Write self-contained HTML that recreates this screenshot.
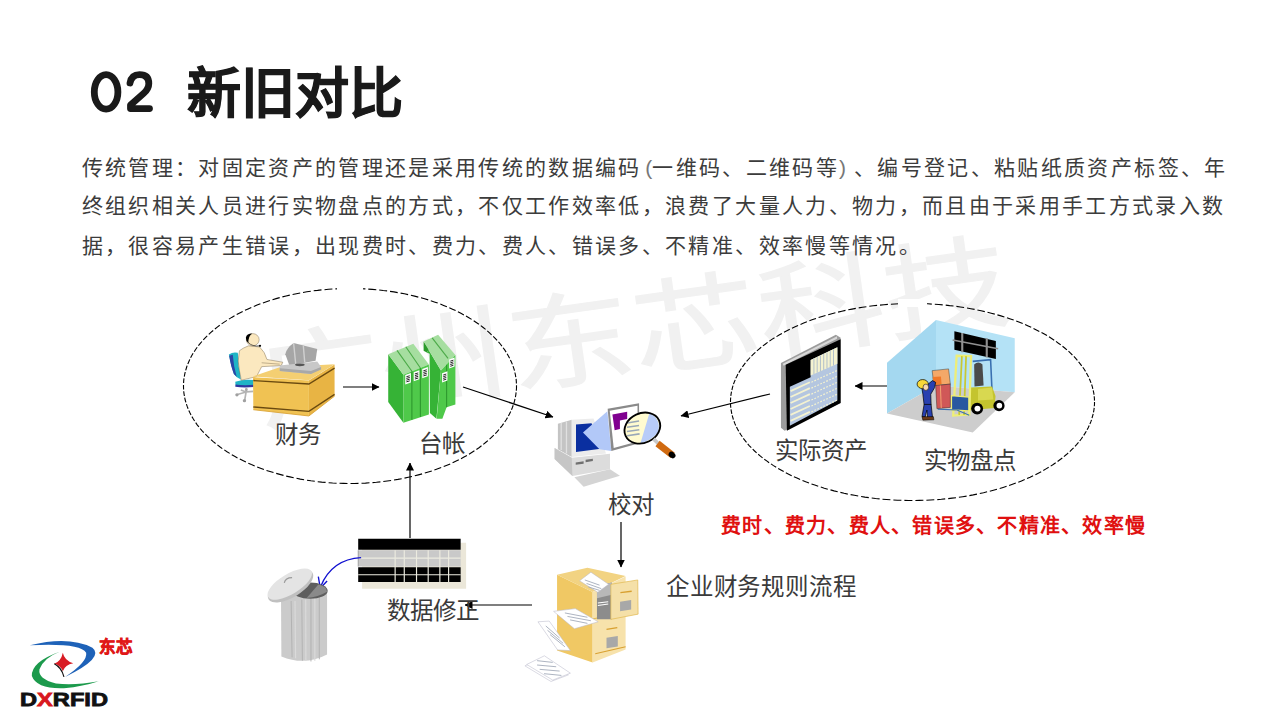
<!DOCTYPE html>
<html lang="zh-CN">
<head>
<meta charset="utf-8">
<style>
html,body{margin:0;padding:0;background:#fff;}
body{width:1280px;height:720px;position:relative;overflow:hidden;font-family:"Liberation Sans",sans-serif;}
.abs{position:absolute;white-space:nowrap;}
#title{left:89px;top:50px;font-size:57px;font-weight:bold;color:#1a1a1a;line-height:84px;}
#title2{left:187px;top:52px;font-size:54px;font-weight:bold;color:#1a1a1a;line-height:84px;-webkit-text-stroke:0.9px #1a1a1a;}
.ln{left:81.5px;font-size:21px;color:#3c3c3c;line-height:30px;letter-spacing:2.345px;}
.pl,.pr{display:inline-block;width:12.8px;color:#777;letter-spacing:0}
.pl{width:10.5px}.pr{width:15px}
.pl{text-align:right}.pr{text-align:left}
.lbl{font-family:"Liberation Serif",serif;font-size:23.5px;color:#3a3a3a;line-height:26px;}
#red{left:721px;top:512px;font-family:"Liberation Serif",serif;font-size:20px;font-weight:bold;color:#e01010;line-height:28px;letter-spacing:1.25px;}
</style>
</head>
<body>
<svg id="wm" class="abs" style="left:0;top:0" width="1280" height="720">
  <g transform="translate(633 333) rotate(-8) scale(1 0.82) translate(-633 -333)"><text x="633" y="378" text-anchor="middle" font-size="126" fill="#f1f1f1" stroke="#f1f1f1" stroke-width="1.4" font-family="Liberation Sans" letter-spacing="1">广州东芯科技</text></g>
</svg>
<svg class="abs" style="left:0;top:0" width="200" height="140">
  <ellipse cx="106.1" cy="91.9" rx="11.8" ry="17.2" fill="none" stroke="#1a1a1a" stroke-width="6.8"/>
  <path d="M130,83 Q131.5,74.6 139.5,74.6 Q148.8,74.6 148.8,83.5 Q148.8,89 143.5,93.5 L130.5,105 L130.5,108.6 L149.5,108.6" fill="none" stroke="#1a1a1a" stroke-width="6.8" stroke-linecap="round" stroke-linejoin="round"/>
</svg><div id="title2" class="abs">新旧对比</div>
<div class="abs ln" style="top:152.5px">传统管理：对固定资产的管理还是采用传统的数据编码<span class="pl">(</span>一维码、二维码等<span class="pr">)</span>、编号登记、粘贴纸质资产标签、年</div>
<div class="abs ln" style="top:190.5px">终组织相关人员进行实物盘点的方式，不仅工作效率低，浪费了大量人力、物力，而且由于采用手工方式录入数</div>
<div class="abs ln" style="top:230.5px">据，很容易产生错误，出现费时、费力、费人、错误多、不精准、效率慢等情况。</div>

<svg class="abs" style="left:0;top:0" width="1280" height="720">
  <defs>
    <marker id="ah" markerWidth="8" markerHeight="8" refX="7.5" refY="4" orient="auto" markerUnits="userSpaceOnUse">
      <path d="M0,0 L8,4 L0,8 Z" fill="#000"/>
    </marker>
  </defs>
  <!-- ellipses -->
  <path d="M516.5 386.0L516.5 388.3L516.3 390.7M516.1 392.4L515.8 394.8L515.4 397.1M515.0 398.8L514.5 401.2L513.8 403.5M513.2 405.2L512.4 407.5L511.5 409.8M510.7 411.5L509.6 413.7L508.4 416.0M507.5 417.6L506.2 419.8L504.7 422.0M503.6 423.6L502.0 425.8L500.3 427.9M499.0 429.5L497.2 431.6L495.3 433.6M493.8 435.2L491.7 437.2L489.6 439.2M487.9 440.6L485.6 442.5L483.3 444.4M481.5 445.8L479.0 447.7L476.4 449.5M474.4 450.8L471.7 452.5L469.0 454.2M466.9 455.5L464.0 457.1L461.0 458.7M458.8 459.8L455.7 461.3L452.6 462.8M450.2 463.9L447.0 465.2L443.7 466.6M441.2 467.6L437.8 468.8L434.4 470.0M431.8 470.9L428.3 472.0L424.8 473.1M422.1 473.9L418.4 474.9L414.8 475.8M412.0 476.5L408.3 477.3L404.5 478.1M401.7 478.7L397.9 479.4L394.0 480.0M391.1 480.5L387.2 481.0L383.3 481.5M380.4 481.9L376.4 482.3L372.5 482.6M369.5 482.8L365.5 483.1L361.5 483.3M358.5 483.4L354.5 483.5L350.5 483.5M347.5 483.5L343.5 483.4L339.5 483.3M336.6 483.2L332.6 483.0L328.6 482.7M325.6 482.4L321.7 482.1L317.7 481.7M314.8 481.3L310.9 480.8L307.0 480.2M304.1 479.7L300.3 479.1L296.5 478.3M293.7 477.8L289.9 476.9L286.2 476.1M283.5 475.4L279.8 474.4L276.2 473.4M273.5 472.6L270.0 471.5L266.5 470.4M263.9 469.5L260.5 468.2L257.2 466.9M254.7 466.0L251.4 464.6L248.3 463.2M245.9 462.1L242.8 460.6L239.8 459.1M237.5 457.9L234.6 456.3L231.8 454.7M229.7 453.4L227.0 451.7L224.3 449.9M222.3 448.6L219.8 446.8L217.4 444.9M215.6 443.5L213.2 441.6L211.0 439.7M209.4 438.2L207.3 436.2L205.3 434.2M203.8 432.7L201.9 430.6L200.1 428.5M198.9 426.9L197.2 424.8L195.7 422.6M194.6 421.0L193.2 418.8L191.9 416.6M191.0 414.9L189.8 412.6L188.8 410.4M188.1 408.7L187.2 406.4L186.4 404.1M185.9 402.4L185.2 400.0L184.7 397.7M184.4 396.0L184.0 393.6L183.7 391.3M183.6 389.6L183.5 387.2L183.5 384.9M183.6 383.1L183.7 380.8L184.0 378.4M184.3 376.7L184.7 374.4L185.2 372.0M185.7 370.3L186.4 368.0L187.1 365.7M187.8 364.0L188.8 361.7L189.8 359.4M190.6 357.8L191.8 355.5L193.1 353.3M194.2 351.7L195.6 349.5L197.2 347.3M198.4 345.7L200.1 343.6L201.9 341.5M203.3 339.9L205.2 337.9L207.2 335.9M208.8 334.4L210.9 332.4L213.2 330.5M214.9 329.0L217.3 327.1L219.7 325.3M221.6 323.9L224.2 322.1L226.9 320.4M228.9 319.1L231.7 317.4L234.5 315.8M236.7 314.6L239.7 313.0L242.7 311.5M245.0 310.3L248.1 308.9L251.3 307.5M253.8 306.4L257.1 305.1L260.4 303.8M262.9 302.9L266.4 301.7L269.9 300.5M272.5 299.7L276.1 298.6L279.7 297.6M282.4 296.9L286.1 296.0L289.8 295.1M292.6 294.5L296.4 293.7L300.2 293.0M303.0 292.5L306.9 291.8L310.8 291.2M313.7 290.8L317.6 290.4L321.5 289.9M324.5 289.7L328.4 289.3L332.4 289.0M335.4 288.9L339.4 288.7L343.4 288.6M346.4 288.5L350.4 288.5L354.4 288.5M357.4 288.6L361.4 288.7L365.4 288.9M368.3 289.1L372.3 289.4L376.3 289.7M379.2 290.0L383.2 290.5L387.1 290.9M390.0 291.4L393.9 291.9L397.7 292.6M400.6 293.1L404.4 293.8L408.1 294.6M410.9 295.3L414.6 296.1L418.3 297.1M421.0 297.8L424.6 298.8L428.2 299.9M430.8 300.8L434.3 301.9L437.7 303.1M440.3 304.1L443.6 305.4L446.9 306.7M449.3 307.7L452.5 309.2L455.6 310.6M457.9 311.7L460.9 313.3L463.9 314.9M466.0 316.1L468.9 317.7L471.6 319.4M473.7 320.7L476.3 322.5L478.9 324.3M480.8 325.6L483.2 327.5L485.6 329.4M487.3 330.8L489.5 332.8L491.6 334.8M493.2 336.3L495.2 338.3L497.1 340.3M498.5 341.9L500.3 344.0L501.9 346.1M503.1 347.7L504.7 349.9L506.1 352.1M507.1 353.7L508.4 356.0L509.6 358.2M510.4 359.9L511.4 362.1L512.4 364.4M513.0 366.1L513.8 368.4L514.5 370.7M514.9 372.5L515.4 374.8L515.8 377.1M516.1 378.9L516.3 381.2L516.4 383.6M516.5 385.3L516.5 385.7L516.5 386.0" fill="none" stroke="#000" stroke-width="1.1"/>
  <rect x="337" y="284" width="26" height="8" fill="#fff"/>
  <path d="M1094.5 402.0L1094.5 404.2L1094.3 406.3M1094.2 407.9L1093.9 410.1L1093.5 412.3M1093.2 413.9L1092.6 416.0L1092.0 418.2M1091.5 419.8L1090.8 421.9L1089.9 424.0M1089.2 425.6L1088.2 427.7L1087.1 429.8M1086.3 431.3L1085.0 433.4L1083.7 435.4M1082.7 436.9L1081.2 439.0L1079.7 441.0M1078.5 442.4L1076.8 444.4L1075.0 446.3M1073.6 447.8L1071.7 449.7L1069.8 451.6M1068.2 453.0L1066.1 454.8L1063.9 456.6M1062.3 458.0L1059.9 459.7L1057.6 461.5M1055.7 462.8L1053.2 464.5L1050.7 466.1M1048.7 467.3L1046.0 468.9L1043.3 470.5M1041.2 471.7L1038.3 473.2L1035.4 474.7M1033.1 475.8L1030.1 477.2L1027.0 478.5M1024.7 479.6L1021.5 480.9L1018.3 482.2M1015.8 483.1L1012.5 484.3L1009.1 485.5M1006.6 486.3L1003.1 487.4L999.7 488.5M997.0 489.2L993.4 490.2L989.8 491.2M987.1 491.8L983.5 492.7L979.8 493.5M977.0 494.1L973.2 494.9L969.4 495.6M966.6 496.1L962.7 496.7L958.9 497.2M956.0 497.7L952.1 498.1L948.2 498.6M945.2 498.9L941.3 499.3L937.3 499.6M934.3 499.8L930.4 500.0L926.4 500.2M923.4 500.3L919.4 500.4L915.4 500.5M912.4 500.5L908.4 500.5L904.4 500.4M901.4 500.3L897.4 500.2L893.4 500.0M890.4 499.8L886.5 499.5L882.5 499.2M879.6 498.9L875.6 498.5L871.7 498.0M868.8 497.6L864.9 497.1L861.1 496.5M858.2 496.0L854.4 495.3L850.6 494.6M847.8 494.1L844.1 493.3L840.4 492.4M837.7 491.8L834.0 490.9L830.5 489.9M827.8 489.2L824.3 488.2L820.8 487.1M818.2 486.3L814.8 485.1L811.5 483.9M809.0 483.0L805.7 481.8L802.5 480.5M800.1 479.5L797.0 478.1L793.9 476.7M791.7 475.7L788.7 474.2L785.8 472.7M783.7 471.6L780.9 470.0L778.2 468.5M776.2 467.2L773.5 465.6L771.0 463.9M769.1 462.7L766.7 460.9L764.3 459.2M762.6 457.9L760.4 456.1L758.2 454.3M756.6 452.9L754.6 451.0L752.7 449.1M751.3 447.7L749.4 445.8L747.7 443.8M746.5 442.3L744.9 440.3L743.3 438.3M742.3 436.8L740.9 434.8L739.6 432.7M738.7 431.2L737.5 429.1L736.5 427.0M735.7 425.5L734.8 423.4L734.0 421.2M733.4 419.6L732.8 417.5L732.2 415.4M731.8 413.8L731.4 411.6L731.0 409.4M730.8 407.8L730.6 405.7L730.5 403.5M730.5 401.9L730.5 399.7L730.7 397.5M730.8 395.9L731.1 393.8L731.5 391.6M731.9 390.0L732.4 387.9L733.0 385.7M733.5 384.1L734.3 382.0L735.2 379.9M735.8 378.3L736.9 376.2L737.9 374.1M738.8 372.6L740.1 370.5L741.4 368.5M742.4 366.9L743.9 364.9L745.4 362.9M746.6 361.4L748.3 359.5L750.1 357.5M751.5 356.1L753.4 354.2L755.4 352.3M756.9 350.9L759.0 349.1L761.2 347.3M762.9 345.9L765.2 344.2L767.6 342.4M769.4 341.1L771.9 339.4L774.5 337.8M776.5 336.6L779.1 335.0L781.9 333.4M784.0 332.2L786.9 330.7L789.8 329.3M792.0 328.2L795.1 326.8L798.1 325.4M800.5 324.4L803.7 323.1L806.9 321.8M809.4 320.8L812.7 319.6L816.0 318.5M818.6 317.6L822.1 316.5L825.5 315.5M828.2 314.7L831.8 313.7L835.4 312.8M838.1 312.1L841.8 311.2L845.5 310.4M848.3 309.8L852.0 309.1L855.8 308.4M858.7 307.9L862.5 307.3L866.4 306.7M869.3 306.3L873.2 305.8L877.1 305.4M880.0 305.1L884.0 304.7L887.9 304.4M890.9 304.2L894.9 304.0L898.9 303.8M901.9 303.7L905.8 303.6L909.8 303.5M912.8 303.5L916.8 303.5L920.8 303.6M923.8 303.7L927.8 303.8L931.8 304.1M934.8 304.2L938.8 304.5L942.7 304.9M945.7 305.1L949.6 305.6L953.5 306.0M956.4 306.4L960.3 307.0L964.1 307.5M967.0 308.0L970.8 308.7L974.6 309.4M977.4 310.0L981.1 310.8L984.8 311.6M987.5 312.3L991.2 313.2L994.8 314.1M997.4 314.9L1000.9 315.9L1004.4 317.0M1007.0 317.8L1010.4 319.0L1013.7 320.1M1016.2 321.1L1019.5 322.3L1022.7 323.6M1025.1 324.6L1028.2 326.0L1031.2 327.3M1033.5 328.4L1036.4 329.9L1039.3 331.4M1041.5 332.5L1044.3 334.1L1047.0 335.6M1049.0 336.8L1051.6 338.5L1054.2 340.2M1056.0 341.4L1058.4 343.2L1060.8 344.9M1062.5 346.2L1064.7 348.0L1066.9 349.9M1068.5 351.2L1070.5 353.1L1072.4 355.0M1073.9 356.4L1075.7 358.4L1077.4 360.3M1078.6 361.8L1080.2 363.8L1081.7 365.8M1082.8 367.3L1084.2 369.3L1085.5 371.4M1086.4 372.9L1087.5 375.0L1088.6 377.1M1089.3 378.7L1090.2 380.8L1091.0 382.9M1091.6 384.5L1092.3 386.6L1092.8 388.8M1093.2 390.4L1093.7 392.5L1094.0 394.7M1094.2 396.3L1094.4 398.5L1094.5 400.6" fill="none" stroke="#000" stroke-width="1.1"/>
  <rect x="898" y="299" width="29" height="8" fill="#fff"/>
  <!-- arrows -->
  <line x1="343" y1="387" x2="379" y2="387" stroke="#000" stroke-width="1.2" marker-end="url(#ah)"/>
  <line x1="463" y1="387" x2="553" y2="417" stroke="#000" stroke-width="1.2" marker-end="url(#ah)"/>
  <line x1="770" y1="394" x2="681" y2="416" stroke="#000" stroke-width="1.2" marker-end="url(#ah)"/>
  <line x1="893" y1="386" x2="855" y2="386" stroke="#000" stroke-width="1.2" marker-end="url(#ah)"/>
  <line x1="410" y1="538" x2="410" y2="463" stroke="#000" stroke-width="1.2" marker-end="url(#ah)"/>
  <line x1="621" y1="522" x2="621" y2="567" stroke="#000" stroke-width="1.2" marker-end="url(#ah)"/>
  <line x1="532" y1="605" x2="465" y2="605" stroke="#000" stroke-width="1.2" marker-end="url(#ah)"/>
</svg>

<svg class="abs" style="left:0;top:0" width="1280" height="720">
 <!-- Desk person -->
 <g transform="translate(220,325) scale(0.13889)">
  <!-- chair -->
  <path d="M64,212 Q92,192 128,200 L150,392 Q118,380 100,352 Q78,290 64,212 Z" fill="#20b4c6"/>
  <path d="M66,222 Q78,300 100,352 L120,372 Q98,300 92,214 Z" fill="#2b46a6"/>
  <path d="M110,408 Q170,388 245,396 L245,436 Q170,444 112,436 Z" fill="#20b4c6"/>
  <path d="M112,428 Q170,438 245,430 L245,446 Q170,454 110,444 Z" fill="#3038a0"/>
  <path d="M190,452 L188,482 M188,482 L125,500 M188,482 L178,540 M188,482 L240,478 M188,482 L150,468" stroke="#b4b4b4" stroke-width="12" fill="none"/>
  <circle cx="122" cy="503" r="12" fill="#a0a0a0"/><circle cx="176" cy="545" r="12" fill="#a0a0a0"/><circle cx="190" cy="466" r="10" fill="#a8a8a8"/>
  <!-- body -->
  <path d="M205,150 Q165,165 140,185 Q122,260 140,330 Q150,370 152,398 L262,372 Q285,330 300,300 L440,292 L452,268 L338,248 Q325,195 285,158 Z" fill="#fbe8bf" stroke="#6a5a40" stroke-width="3"/>
  <path d="M300,272 L430,282" stroke="#6a5a40" stroke-width="3" fill="none"/>
  <ellipse cx="236" cy="106" rx="46" ry="44" fill="#fbe8bf" stroke="#6a5a40" stroke-width="3"/>
  <path d="M186,92 Q192,62 232,62 Q204,78 204,130 Q186,118 186,92 Z" fill="#000"/>
  <path d="M202,124 Q232,158 288,150" stroke="#000" stroke-width="4" fill="none"/>
  <circle cx="288" cy="150" r="8" fill="#000"/>
  <!-- desk -->
  <path d="M235,370 L430,305 L825,282 L640,398 Z" fill="#f4cf72"/>
  <path d="M238,375 L640,400 L640,655 L240,610 Z" fill="#f0c253"/>
  <path d="M640,400 L825,285 L825,512 L640,655 Z" fill="#e8b444"/>
  <path d="M240,400 L640,425 L825,310" stroke="#6a4a10" stroke-width="10" fill="none"/>
  <path d="M240,590 L640,622 L825,500" stroke="#6a4a10" stroke-width="10" fill="none"/>
  <path d="M240,610 L640,655 L825,512" stroke="#d8a030" stroke-width="6" fill="none"/>
  <!-- monitor -->
  <path d="M470,210 Q480,165 530,130 L700,172 L688,258 L500,292 Z" fill="#a6a6a6"/>
  <path d="M530,130 L545,280 M600,150 L610,268" stroke="#d0d0d0" stroke-width="10"/>
  <path d="M430,292 L700,262 L728,302 L655,352 L430,332 Z" fill="#c8c8c8"/>
  <path d="M430,312 L655,332 L728,302 L728,320 L655,352 L430,332 Z" fill="#a8a8a8"/>
  <ellipse cx="575" cy="287" rx="35" ry="10" fill="#555"/>
 </g>
 <!-- Books -->
 <g transform="translate(380,328) scale(0.14172)">
  <path d="M58,185 L165,330 L165,668 L58,522 Z" fill="#36b336"/>
  <path d="M58,185 L235,112 L345,258 L165,330 Z" fill="#a6dea0"/>
  <path d="M120,158 L225,305 M182,132 L285,282" stroke="#4caa48" stroke-width="8"/>
  <path d="M165,330 L345,258 L345,610 L165,668 Z" fill="#4fc94a"/>
  <path d="M225,305 L225,648 M285,282 L285,628" stroke="#2e9a2e" stroke-width="8"/>
  <path d="M178,332 L218,318 L218,385 L178,398 Z" fill="#fff"/>
  <path d="M238,312 L278,298 L278,362 L238,376 Z" fill="#fff"/>
  <path d="M298,290 L338,276 L338,340 L298,354 Z" fill="#fff"/>
  <path d="M186,344 L210,337 M186,356 L210,349 M186,368 L210,361 M186,380 L210,373 M246,324 L270,317 M246,336 L270,329 M246,348 L270,341 M246,360 L270,353 M306,302 L330,295 M306,314 L330,307 M306,326 L330,319 M306,338 L330,331" stroke="#000" stroke-width="6"/>
  <!-- tilted group -->
  <path d="M308,95 L345,150 L330,172 L350,182 L352,600 L398,640 L430,300 Z" fill="#36b336"/>
  <path d="M308,95 L308,160 L330,172 L345,150 Z" fill="#2a9a2a"/>
  <path d="M308,95 L410,48 L532,190 L430,300 Z" fill="#a6dea0"/>
  <path d="M368,70 L480,215" stroke="#4caa48" stroke-width="8"/>
  <path d="M430,300 L532,190 L532,540 L470,560 L440,640 L400,640 Z" fill="#4fc94a"/>
  <path d="M470,260 L470,560" stroke="#2e9a2e" stroke-width="8"/>
  <path d="M488,222 L526,208 L526,272 L488,286 Z" fill="#fff"/>
  <path d="M438,320 L476,306 L476,370 L438,384 Z" fill="#fff"/>
  <path d="M496,234 L518,227 M496,246 L518,239 M496,258 L518,251 M496,270 L518,263 M446,332 L468,325 M446,344 L468,337 M446,356 L468,349 M446,368 L468,361" stroke="#000" stroke-width="6"/>
 </g>
 <!-- Computer + magnifier -->
 <g transform="translate(548,398) scale(0.13196)">
  <path d="M75,195 L180,165 L180,448 L75,388 Z" fill="#c4c4c4"/>
  <path d="M100,190 L100,395 M140,178 L140,420" stroke="#e0e0e0" stroke-width="10"/>
  <path d="M180,165 L345,155 L440,420 L180,448 Z" fill="#ececec"/>
  <path d="M212,200 L330,192 L400,385 L212,410 Z" fill="#0a2fa0"/>
  <path d="M50,378 L180,452 L470,422 L470,540 L185,592 L50,462 Z" fill="#dcdcdc"/>
  <path d="M50,378 L180,452 L185,592 L50,462 Z" fill="#c6c6c6"/>
  <path d="M210,488 L270,480 L270,498 L210,506 Z M285,468 L340,460 L340,478 L285,486 Z" fill="#707070"/>
  <path d="M200,600 L470,540 L545,590 L270,672 Z" fill="#d4d4d4"/>
  <path d="M265,262 L450,100 L480,402 L390,388 Z" fill="#b2c8f8"/>
  <path d="M452,82 L690,40 L692,342 L480,402 Z" fill="#8a8a8a"/>
  <path d="M468,96 L678,58 L678,330 L498,378 Z" fill="#fff"/>
  <path d="M488,125 L600,105 L600,160 L545,170 L545,235 L505,245 Z" fill="#800090"/>
  <ellipse cx="715" cy="228" rx="140" ry="112" transform="rotate(-25 715 228)" fill="#fffbd0"/>
  <path d="M760,112 Q860,150 835,260 Q790,320 700,345 L770,110 Z" fill="#b8ccf8"/>
  <path d="M600,190 L690,175 M598,222 L690,208 M598,254 L692,240 M600,286 L694,272" stroke="#9aa8b8" stroke-width="12"/>
  <ellipse cx="715" cy="228" rx="140" ry="112" transform="rotate(-25 715 228)" fill="none" stroke="#000" stroke-width="14"/>
  <path d="M800,310 L835,345" stroke="#c8c8c8" stroke-width="28"/>
  <path d="M830,345 L945,435" stroke="#d06a10" stroke-width="52" stroke-linecap="butt"/>
  <ellipse cx="940" cy="432" rx="22" ry="28" transform="rotate(-52 940 432)" fill="#000"/>
 </g>
 <!-- Asset sheet -->
 <g transform="translate(775,328) scale(0.14851)">
  <path d="M40,235 L410,45 L442,65 L442,505 L65,692 L40,672 Z" fill="#9c9c9c"/>
  <path d="M52,240 L418,55 L418,72 L58,255 Z" fill="#d8d8d8"/>
  <path d="M72,248 L442,75 L442,505 L80,692 Z" fill="#000"/>
  <path d="M100,395 L240,332 L240,215 L420,130 L420,488 L100,658 Z" fill="#b4c6e0"/>
  <path d="M240,215 L420,130 L420,240 L240,320 Z" fill="#f4f2d0"/>
  <path d="M262,205 L262,310 M284,195 L284,300 M306,185 L306,292 M328,175 L328,282 M350,165 L350,272 M372,155 L372,262 M394,145 L394,252" stroke="#a8b8c8" stroke-width="6"/>
  <path d="M105,425 L235,365 M105,465 L235,405 M105,505 L235,445 M105,545 L235,485 M105,585 L235,525 M105,625 L235,565" stroke="#f4f2d0" stroke-width="12"/>
  <path d="M245,365 L420,285 M245,405 L420,325 M245,445 L420,365 M245,485 L420,405 M245,525 L420,445 M245,565 L420,485" stroke="#f4f2d0" stroke-width="8" stroke-dasharray="12 10"/>
 </g>
 <!-- Warehouse -->
 <g transform="translate(880,312) scale(0.175)">
  <path d="M320,45 L770,150 L770,458 L320,420 Z" fill="#b4e2f6"/>
  <path d="M40,290 L320,45 L320,420 L40,580 Z" fill="#a4d8f0"/>
  <path d="M40,580 L320,420 L770,458 L530,688 Z" fill="#cdcdcd"/>
  <path d="M425,110 L662,165 L662,268 L425,215 Z" fill="#000"/>
  <path d="M415,160 L675,210" stroke="#909090" stroke-width="10"/>
  <path d="M470,120 L470,230 M610,150 L610,260" stroke="#909090" stroke-width="12"/>
  <!-- forklift -->
  <path d="M538,300 Q560,278 585,298 L592,420 L540,425 Z" fill="#4a4a4a"/>
  <path d="M530,282 L632,272 L640,450" stroke="#3a70b0" stroke-width="9" fill="none"/>
  <path d="M515,432 L640,425 L660,480 L655,548 L515,562 Z" fill="#c4c42e"/>
  <path d="M560,440 L640,432 L648,500 L560,505 Z" fill="#d8d850"/>
  <path d="M438,250 L520,252 L510,585 L418,592 Z" fill="none" stroke="#eeee78" stroke-width="13"/>
  <path d="M468,252 L452,588 M492,252 L480,588" stroke="#c8c832" stroke-width="10"/>
  <path d="M408,478 L508,486 L508,565 L408,560 Z" fill="#2a58a0" stroke="#eeee78" stroke-width="8"/>
  <path d="M330,555 L440,560 L510,590" stroke="#3a70b0" stroke-width="6" fill="none"/>
  <circle cx="555" cy="552" r="34" fill="#000"/><circle cx="557" cy="552" r="17" fill="#fff"/>
  <circle cx="680" cy="535" r="32" fill="#000"/><circle cx="682" cy="535" r="16" fill="#fff"/>
  <!-- boxes -->
  <path d="M298,335 L392,325 L402,412 L308,420 Z" fill="#f4a868" stroke="#000" stroke-width="2"/>
  <path d="M300,372 L348,368 L352,412 L308,420 Z" fill="#f07828"/>
  <path d="M318,420 L402,412 L402,545 L325,552 Z" fill="#d05858" stroke="#000" stroke-width="2"/>
  <path d="M345,420 L350,548" stroke="#f0a070" stroke-width="6"/>
  <!-- worker -->
  <path d="M240,440 L300,392 L318,402 L312,432 L290,470 L292,530 L252,530 L245,470 Z" fill="#2840b0" stroke="#000" stroke-width="4"/>
  <path d="M252,528 L292,528 L300,600 L272,605 L268,560 L258,600 L240,598 Z" fill="#2840b0" stroke="#000" stroke-width="4"/>
  <path d="M240,598 L305,598 L308,616 L245,618 Z" fill="#6a3a18" stroke="#000" stroke-width="3"/>
  <ellipse cx="244" cy="412" rx="32" ry="26" fill="#f8d838" stroke="#000" stroke-width="4"/>
  <ellipse cx="262" cy="430" rx="16" ry="18" fill="#f8d8b0" stroke="#000" stroke-width="3"/>
 </g>
 <!-- Table -->
 <g transform="translate(260,530) scale(0.19444)">
  <path d="M525,65 L1060,65 L1060,302 L525,302 Z" fill="#ebe7d9"/>
  <path d="M505,45 L1032,45 L1032,102 L505,102 Z" fill="#000"/>
  <path d="M505,104 L1032,104 L1032,188 L505,188 Z" fill="#c9c9c9"/>
  <path d="M505,145 L1032,145" stroke="#ecebe0" stroke-width="6"/>
  <path d="M505,192 L1032,192 L1032,268 L505,268 Z" fill="#000"/>
  <path d="M505,230 L1032,230" stroke="#ecebe0" stroke-width="6"/>
  <path d="M695,104 L695,268 M742,104 L742,268 M805,104 L805,268 M865,104 L865,268 M925,104 L925,268 M970,104 L970,268" stroke="#ecebe0" stroke-width="6"/>
  <path d="M505,104 L505,188" stroke="#777" stroke-width="3"/>
  <!-- blue arrow -->
  <path d="M520,142 Q370,150 312,290" stroke="#1010d0" stroke-width="7" fill="none"/>
  <path d="M300,240 L310,300 L345,262" stroke="#1010d0" stroke-width="7" fill="none"/>
  <!-- trash -->
  <path d="M108,345 Q230,300 345,318 L345,640 Q230,700 110,650 Z" fill="#cbcbcb"/>
  <path d="M160,365 L165,655 M215,358 L218,672 M262,352 L262,676 M305,340 L305,665" stroke="#b2b2b2" stroke-width="5"/>
  <path d="M180,365 L183,660 M235,358 L236,672 M282,350 L282,672" stroke="#dadada" stroke-width="6"/>
  <ellipse cx="258" cy="312" rx="90" ry="42" fill="#5e5e5e"/>
  <path d="M300,280 Q345,290 345,318 Q300,345 240,350 Z" fill="#8a8a8a"/>
  <ellipse cx="157" cy="288" rx="132" ry="58" transform="rotate(-31 157 288)" fill="#c0c0c0"/>
  <ellipse cx="153" cy="278" rx="130" ry="52" transform="rotate(-31 153 278)" fill="#e4e4e4"/>
  <path d="M125,272 Q130,245 165,245" stroke="#999" stroke-width="6" fill="none"/>
 </g>
 <!-- Cabinet -->
 <g transform="translate(518,560) scale(0.17356)">
  <path d="M225,85 L430,185 L430,590 L225,522 Z" fill="#f0c864"/>
  <path d="M225,85 L400,45 L620,92 L430,185 Z" fill="#f2d382"/>
  <path d="M430,185 L620,95 L620,515 L430,590 Z" fill="#f7e2ab"/>
  <path d="M430,340 L620,300" stroke="#e0b850" stroke-width="6"/>
  <path d="M455,152 L540,130 L540,342 L455,342 Z" fill="#8c8c8c"/>
  <path d="M455,152 L540,130 L540,200 L455,220 Z" fill="#b8b8b8"/>
  <path d="M460,248 L520,240 M460,262 L520,254" stroke="#fff" stroke-width="6"/>
  <path d="M535,140 L690,115 L692,312 L535,342 Z" fill="#f5e0a8" stroke="#e0b850" stroke-width="4"/>
  <path d="M590,188 L655,180 M510,400 L572,390" stroke="#d8a030" stroke-width="8"/>
  <path d="M588,240 L652,230 L652,285 L588,295 Z M510,448 L575,438 L575,498 L510,508 Z" fill="#a8a8a8"/>
  <path d="M445,540 L620,500" stroke="#d8a030" stroke-width="6"/>
  <path d="M355,120 L420,70 L522,140 L460,186 Z" fill="#fff" stroke="#b8b8c8" stroke-width="3"/>
  <path d="M385,115 L470,145 M395,135 L480,165 M405,155 L470,175" stroke="#a0a8b8" stroke-width="5"/>
  <path d="M205,296 L330,280 L462,356 L325,396 Z" fill="#fff" stroke="#b8b8c8" stroke-width="3"/>
  <path d="M270,305 L400,330 M285,325 L420,350 M300,345 L400,365" stroke="#a0a8b8" stroke-width="5"/>
  <path d="M115,356 L180,352 L302,522 L228,518 Z" fill="#fff" stroke="#b8b8c8" stroke-width="3"/>
  <path d="M160,380 L240,450 M170,405 L260,480 M185,430 L270,500" stroke="#a0a8b8" stroke-width="5"/>
  <path d="M40,610 L140,565 L290,662 L190,700 Z" fill="#fff" stroke="#b8b8c8" stroke-width="3"/>
  <path d="M50,602 L152,552 L302,652 L200,692 Z" fill="#fff" stroke="#b8b8c8" stroke-width="3"/>
  <path d="M110,580 L200,590 M110,605 L220,615 M125,630 L240,640 M150,655 L250,665" stroke="#a0a8b8" stroke-width="5"/>
 </g>
 <!-- Logo -->
 <g transform="translate(15,630) scale(0.11384)">
  <path d="M130,135 Q470,50 680,155 Q790,240 440,412 Q640,280 625,200 Q570,112 130,135 Z" fill="#1e62b8"/>
  <path d="M392,190 Q140,280 148,405 Q190,520 430,512 Q600,495 735,450 Q520,490 360,470 Q200,430 215,345 Q250,245 392,190 Z" fill="#1c9a4c"/>
  <path d="M420,200 Q435,270 512,292 Q440,305 420,362 Q400,310 345,296 Q405,275 420,200 Z" fill="#d81c24"/>
  <path d="M345,296 Q410,330 430,412" stroke="#111" stroke-width="10" fill="none"/>
 </g>
</svg>

<div class="abs lbl" style="left:275px;top:422px">财务</div>
<div class="abs lbl" style="left:419px;top:431px">台帐</div>
<div class="abs lbl" style="left:608px;top:492px">校对</div>
<div class="abs lbl" style="left:775px;top:438px">实际资产</div>
<div class="abs lbl" style="left:924px;top:448px">实物盘点</div>
<div class="abs lbl" style="left:387px;top:598px">数据修正</div>
<div class="abs lbl" style="left:666px;top:574px;letter-spacing:0.8px">企业财务规则流程</div>
<div id="red" class="abs">费时、费力、费人、错误多、不精准、效率慢</div>
<svg class="abs" style="left:0;top:620px" width="200" height="100">
  <text x="99" y="33" font-size="16.5" font-weight="bold" fill="#e01818" stroke="#e01818" stroke-width="0.7" font-family="Liberation Sans" textLength="34" lengthAdjust="spacingAndGlyphs">东芯</text>
  <text x="20" y="86" font-size="18.5" font-weight="bold" fill="#111" font-family="Liberation Sans" textLength="88" lengthAdjust="spacingAndGlyphs" stroke="#111" stroke-width="0.8">D<tspan fill="#d81820" stroke="#d81820">X</tspan>RFID</text>
</svg>
</body>
</html>
